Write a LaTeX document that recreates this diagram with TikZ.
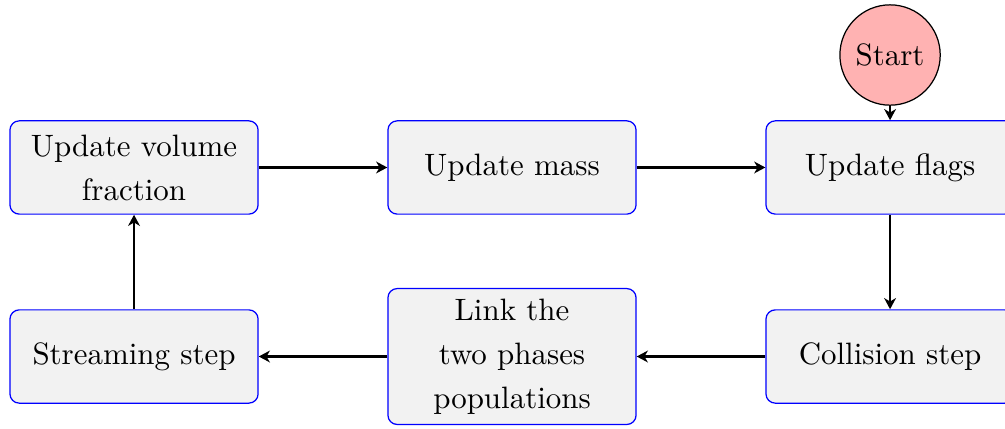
\documentclass[tikz,border=0pt]{standalone}
\usepackage{xcolor}
\usepackage{tikz}
\usetikzlibrary{arrows.meta,positioning}
\definecolor{flowBlue}{RGB}{0,0,255}
\definecolor{flowGray}{RGB}{242,242,242}
\definecolor{startRed}{RGB}{255,178,178}

\begin{document}
\begin{tikzpicture}[
    flowbox/.style={draw=flowBlue, fill=flowGray, rounded corners=3pt,
        minimum width=2.82cm, minimum height=1.06cm, align=center,
        font=\fontsize{10}{14.2}\selectfont},
    startcirc/.style={draw=black, fill=startRed, circle, minimum size=1.14cm,
        inner sep=0pt, font=\fontsize{10}{14.2}\selectfont},
    flowarrow/.style={-{Stealth[length=3.6pt,width=3.8pt,inset=1.1pt]}, line width=0.7pt}
]
    \useasboundingbox (0,0) rectangle (11.42,-4.864);

    % top row
    \node[flowbox] (volFrac) at (1.523,-1.903) {Update volume\\fraction};
    \node[flowbox] (updMass) at (5.818,-1.903) {Update mass};
    \node[flowbox] (updFlags) at (10.114,-1.903) {Update flags};
    \node[startcirc] (start) at (10.114,-0.625) {Start};

    % bottom row
    \node[flowbox] (streaming) at (1.523,-4.051) {Streaming step};
    \node[flowbox] (linkPhases) at (5.818,-4.051) {Link the\\two phases\\populations};
    \node[flowbox] (collision) at (10.114,-4.051) {Collision step};

    \draw[flowarrow] (start) -- (updFlags);
    \draw[flowarrow] (volFrac) -- (updMass);
    \draw[flowarrow] (updMass) -- (updFlags);
    \draw[flowarrow] (updFlags) -- (collision);
    \draw[flowarrow] (collision) -- (linkPhases);
    \draw[flowarrow] (linkPhases) -- (streaming);
    \draw[flowarrow] (streaming) -- (volFrac);
\end{tikzpicture}
\end{document}
